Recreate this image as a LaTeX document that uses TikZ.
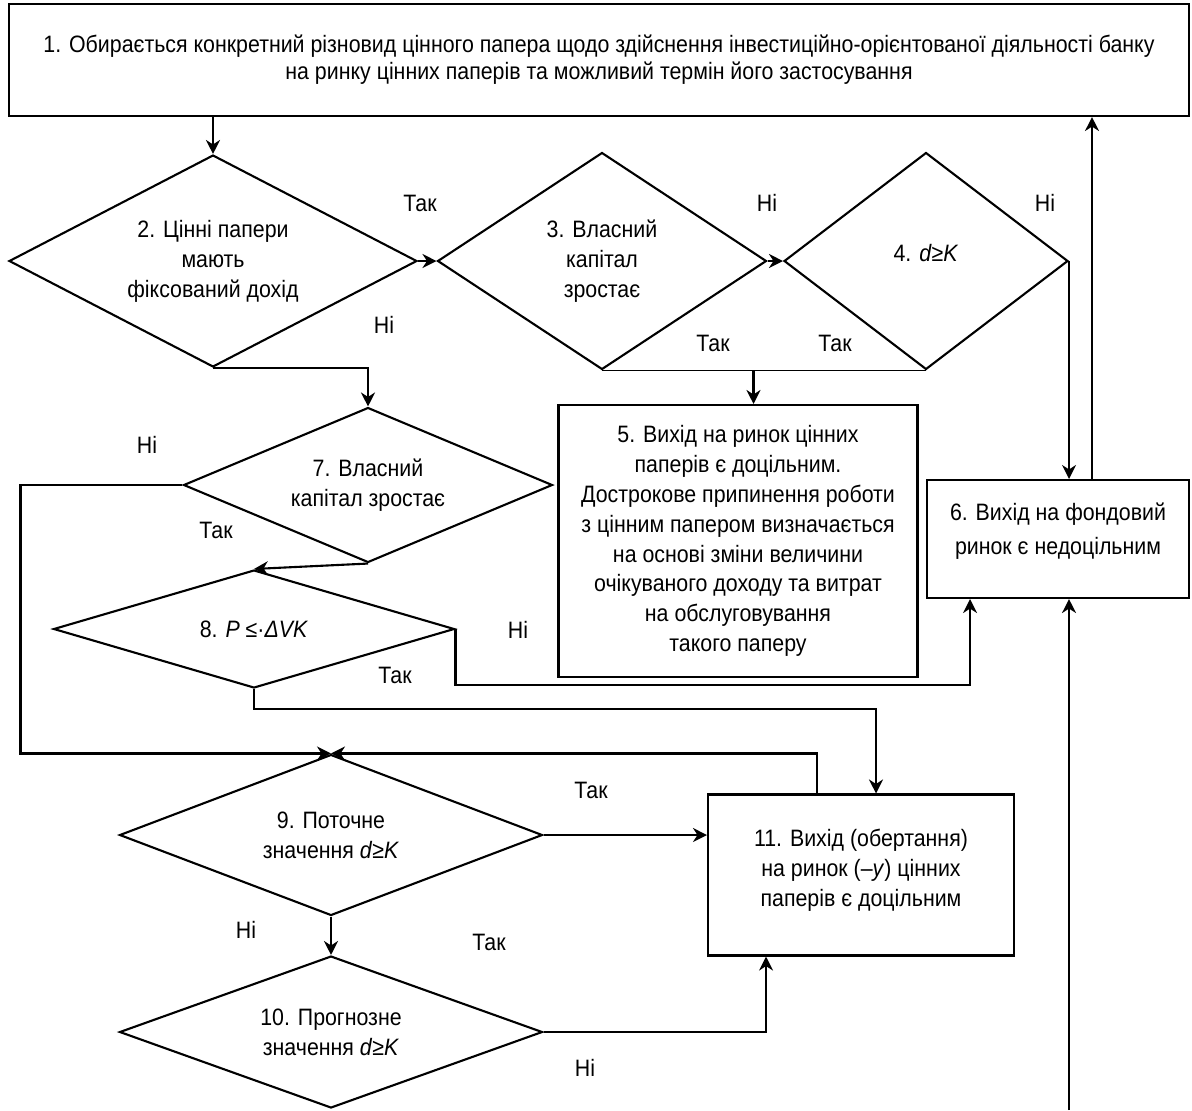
\documentclass[tikz,border=0pt]{standalone}
\usepackage{fontspec}
\setmainfont{Liberation Sans}[FakeStretch=0.9]
\usepackage{tikz}
\usetikzlibrary{arrows.meta,positioning,shapes.geometric}

\begin{document}
\begin{tikzpicture}[
  x=0.02cm, y=-0.02cm,
  block/.style={draw, line width=1.2pt, align=center, inner sep=2pt},
  decision/.style={draw, diamond, line width=1.2pt, align=center, inner sep=0pt},
  arrow/.style={-{Stealth[length=2.8mm,width=2.8mm,inset=0.9mm]}, line width=1.2pt},
  lbl/.style={inner sep=0pt},
  every node/.style={font=\fontsize{13.5}{17}\selectfont}
]
\useasboundingbox (0,0) rectangle (1192,1110);

\node[block, minimum width=23.6cm, minimum height=2.24cm, font=\fontsize{13.5}{15.4}\selectfont] (select) at (599,60) {1. Обирається конкретний різновид цінного папера щодо здійснення інвестиційно-орієнтованої діяльності банку\\на ринку цінних паперів та можливий термін його застосування};

\node[decision, shape aspect=1.92, minimum width=8.16cm, minimum height=4.24cm] (fixed) at (213,261) {2. Цінні папери\\мають\\фіксований дохід};
\node[decision, shape aspect=1.52, minimum width=6.58cm, minimum height=4.34cm] (capital) at (602,261) {3. Власний\\капітал\\зростає};
\node[decision, shape aspect=1.31, minimum width=5.68cm, minimum height=4.34cm, text depth=9.5pt] (dk) at (926,261) {4. \textit{d}≥\textit{K}};

\node[block, minimum width=7.18cm, minimum height=5.44cm] (go) at (738,541) {5. Вихід на ринок цінних\\паперів є доцільним.\\Дострокове припинення роботи\\з цінним папером визначається\\на основі зміни величини\\очікуваного доходу та витрат\\на обслуговування\\такого паперу};
\node[block, minimum width=5.24cm, minimum height=2.36cm, font=\fontsize{13.5}{19.4}\selectfont, text depth=12pt] (nogo) at (1058,539) {6. Вихід на фондовий\\ринок є недоцільним};

\node[decision, shape aspect=2.38, minimum width=7.38cm, minimum height=3.1cm] (capital2) at (368,485) {7. Власний\\капітал зростає};
\node[decision, shape aspect=3.4, minimum width=8.02cm, minimum height=2.36cm] (pvk) at (254,629) {8. \textit{P} ≤·\textit{ΔVK}};

\node[decision, shape aspect=2.63, minimum width=8.46cm, minimum height=3.22cm] (current) at (331,835) {9. Поточне\\значення \textit{d}≥\textit{K}};
\node[decision, shape aspect=2.78, minimum width=8.46cm, minimum height=3.04cm] (forecast) at (331,1032) {10. Прогнозне\\значення \textit{d}≥\textit{K}};
\node[block, minimum width=6.12cm, minimum height=3.22cm, text depth=8.5pt] (enter) at (861,875) {11. Вихід (обертання)\\на ринок (–\textit{у}) цінних\\паперів є доцільним};

\node[lbl] (yes1) at (420,203) {Так};
\node[lbl] (no1) at (767,203) {Ні};
\node[lbl] (no2) at (1045,203) {Ні};
\node[lbl] (no3) at (384,325) {Ні};
\node[lbl] (yes2) at (713,343) {Так};
\node[lbl] (yes3) at (835,343) {Так};
\node[lbl] (no4) at (147,445) {Ні};
\node[lbl] (yes4) at (216,530) {Так};
\node[lbl] (no5) at (518,630) {Ні};
\node[lbl] (yes5) at (395,675) {Так};
\node[lbl] (yes6) at (591,790) {Так};
\node[lbl] (no6) at (246,930) {Ні};
\node[lbl] (yes7) at (489,942) {Так};
\node[lbl] (no7) at (585,1068) {Ні};

\coordinate (feed) at (1069,1110);

\draw[arrow] (fixed.north |- select.south) -- (fixed.north);
\draw[arrow] (fixed.east) -- (capital.west);
\draw[arrow] (capital.east) -- (dk.west);
\draw[arrow] (dk.east) -- (dk.east |- nogo.north);
\draw[arrow] ([xshift=0.68cm]nogo.north) -- ([xshift=0.68cm]nogo.north |- select.south);
\draw[arrow] (fixed.south) -| (capital2.north);
\draw (capital.south) -- (dk.south);
\draw[arrow] ([xshift=0.31cm]go.north |- capital.south) -- ([xshift=0.31cm]go.north);
\draw[arrow] (capital2.west) -- ++(-162,0) |- (current.north);
\draw[arrow] (capital2.south) -- (pvk.north);
\draw[arrow] (pvk.east) -- ++(0,56) -| ([xshift=-1.76cm]nogo.south);
\draw[arrow] (pvk.south) -- ++(0,20) -| ([xshift=0.3cm]enter.north);
\draw[arrow] ([xshift=-0.88cm]enter.north) |- (current.north);
\draw[arrow] (current.east) -- (current.east -| enter.west);
\draw[arrow] (current.south) -- (forecast.north);
\draw[arrow] (forecast.east) -| ([xshift=-1.9cm]enter.south);
\draw[arrow] (feed) -- (feed |- nogo.south);
\end{tikzpicture}
\end{document}
